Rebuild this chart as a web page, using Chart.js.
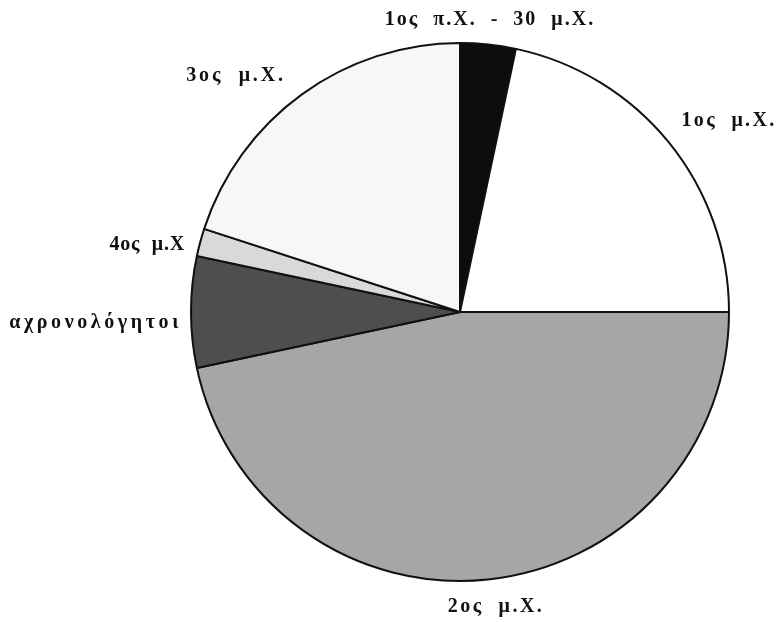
<!DOCTYPE html>
<html>
<head>
<meta charset="utf-8">
<script src="https://cdn.jsdelivr.net/npm/chart.js@4/dist/chart.umd.min.js"></script>
<style>
  html, body { margin: 0; padding: 0; background: #fff; }
  #wrap { width: 782px; height: 622px; position: relative; }
</style>
</head>
<body>
<div id="wrap"><canvas id="pieChart"></canvas></div>
<script>
const categories = ['1ος  π.Χ.  -  30  μ.Χ.', '1ος  μ.Χ.', '2ος  μ.Χ.', 'αχρονολόγητοι', '4ος  μ.Χ', '3ος  μ.Χ.'];
const counts = [2, 13, 28, 4, 1, 12];
const fills = ['#0d0d0d', '#ffffff', '#a6a6a6', '#4e4e4e', '#d9d9d9', '#f7f7f7'];

// where each label sits, same order as categories
const labelPos = [
  { x: 490, y: 20, align: 'center', spacing: 2 },
  { x: 729, y: 121, align: 'center', spacing: 2.3 },
  { x: 496, y: 607, align: 'center', spacing: 2.5 },
  { x: 182, y: 323, align: 'right', spacing: 3.6 },
  { x: 185, y: 245, align: 'right', spacing: 0.8 },
  { x: 236, y: 76, align: 'center', spacing: 2.8 }
];

const sliceLabels = {
  id: 'sliceLabels',
  afterDraw(chart) {
    const { ctx } = chart;
    ctx.save();
    ctx.fillStyle = '#111';
    ctx.font = 'bold 20px "Liberation Serif", "DejaVu Serif", serif';
    ctx.textBaseline = 'middle';
    categories.forEach((label, i) => {
      const p = labelPos[i];
      ctx.letterSpacing = p.spacing + 'px';
      ctx.textAlign = p.align;
      ctx.fillText(label, p.x, p.y);
    });
    ctx.restore();
  }
};

new Chart(document.getElementById('pieChart'), {
  type: 'pie',
  data: {
    labels: categories,
    datasets: [{
      data: counts,
      backgroundColor: fills,
      borderColor: '#111',
      borderWidth: 2
    }]
  },
  options: {
    responsive: true,
    maintainAspectRatio: false,
    animation: false,
    layout: { padding: { left: 190, right: 52, top: 42, bottom: 40 } },
    plugins: {
      legend: { display: false },
      tooltip: { enabled: false }
    }
  },
  plugins: [sliceLabels]
});
</script>
</body>
</html>
